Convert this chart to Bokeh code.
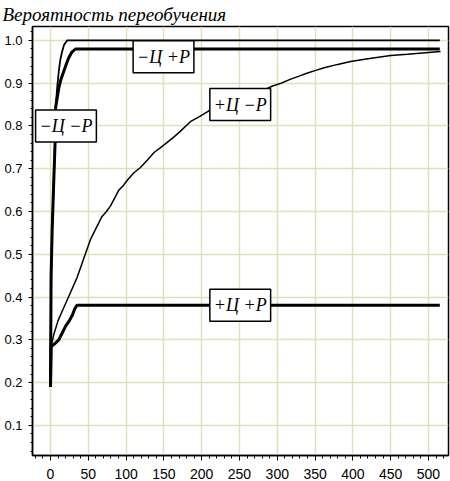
from bokeh.plotting import figure
from bokeh.models import Range1d, SingleIntervalTicker, PrintfTickFormatter, Label
from bokeh.embed import file_html
from bokeh.resources import INLINE

# ---- data ----
title_text = "Вероятность переобучения"

x_mc_mr = [0, 0.8, 2.2, 4.5, 6.6, 6.8, 8.8, 11, 13, 15.4, 18, 22, 515]
y_mc_mr = [0.19, 0.45, 0.556, 0.68, 0.788, 0.843, 0.889, 0.928, 0.955, 0.974, 0.99, 1.0, 1.0]

x_mc_pr = [0, 0.8, 2.2, 4.5, 6.6, 6.8, 11, 14, 17.6, 21, 24, 28, 33, 515]
y_mc_pr = [0.19, 0.45, 0.556, 0.68, 0.788, 0.843, 0.889, 0.91, 0.928, 0.945, 0.959, 0.972, 0.98, 0.98]

x_pc_mr = [0, 1, 4, 10, 15, 20, 25, 30, 35, 40, 46, 53, 60, 68, 74, 79, 85, 90, 96,
           101, 110, 119, 128, 137, 146, 154, 163, 172, 185, 197, 209, 225, 240, 260,
           278, 293, 305, 317, 328, 340, 351, 362, 380, 397, 420, 450, 472, 500, 516]
y_pc_mr = [0.19, 0.284, 0.31, 0.345, 0.365, 0.385, 0.405, 0.425, 0.445, 0.47, 0.5, 0.535,
           0.56, 0.588, 0.6, 0.612, 0.632, 0.649, 0.66, 0.672, 0.69, 0.703, 0.72, 0.738,
           0.75, 0.761, 0.774, 0.788, 0.81, 0.822, 0.835, 0.846, 0.856, 0.868, 0.88,
           0.893, 0.9, 0.909, 0.916, 0.924, 0.93, 0.936, 0.944, 0.951, 0.957, 0.965,
           0.968, 0.972, 0.974]

x_pc_pr = [0, 1, 5, 11, 15.5, 20, 25, 29, 32, 35, 515]
y_pc_pr = [0.19, 0.284, 0.29, 0.30, 0.316, 0.332, 0.345, 0.358, 0.372, 0.381, 0.381]

series_labels = ["−Ц −Р", "−Ц +Р", "+Ц −Р", "+Ц +Р"]
label_x = [20.5, 149.5, 251, 251]
label_y = [0.80, 0.962, 0.85, 0.381]

x_start, x_end = -23.8, 526.5
y_start, y_end = 0.0296, 1.0326

p = figure(width=450, height=481, output_backend="svg", toolbar_location=None,
           x_range=Range1d(x_start, x_end), y_range=Range1d(y_start, y_end),
           min_border_left=32, min_border_right=2, min_border_top=0, min_border_bottom=22,
           title=title_text)

p.title.align = "left"
p.title.offset = -30
p.title.standoff = 3
p.title.text_font = "Liberation Serif"
p.title.text_font_style = "italic"
p.title.text_font_size = "19px"
p.title.text_color = "black"

p.background_fill_color = "white"
p.border_fill_color = "white"
p.outline_line_color = "black"
p.outline_line_width = 1.5

p.xaxis.ticker = SingleIntervalTicker(interval=50, num_minor_ticks=5)
p.yaxis.ticker = SingleIntervalTicker(interval=0.1, num_minor_ticks=5)
p.yaxis.formatter = PrintfTickFormatter(format="%.1f")

for ax in (p.xaxis[0], p.yaxis[0]):
    ax.axis_line_color = "black"
    ax.axis_line_width = 1.5
    ax.major_tick_line_color = "black"
    ax.minor_tick_line_color = "black"
    ax.major_tick_in = 0
    ax.minor_tick_in = 0
    ax.major_label_text_font = "Liberation Sans"
    ax.major_label_text_color = "black"

p.xaxis.major_tick_out = 5
p.xaxis.minor_tick_out = 3
p.xaxis.major_label_standoff = 8
p.xaxis.major_label_text_font_size = "14px"
p.xaxis.major_label_text_line_height = 0.6
p.yaxis.major_tick_out = 4
p.yaxis.minor_tick_out = 2
p.yaxis.major_label_standoff = 6
p.yaxis.major_label_text_font_size = "13px"

p.grid.grid_line_color = "#e0e0b8"
p.grid.grid_line_width = 1.5

p.line(x_pc_mr, y_pc_mr, line_color="black", line_width=1.5)
p.line(x_mc_mr, y_mc_mr, line_color="black", line_width=1.8)
p.line(x_mc_pr, y_mc_pr, line_color="black", line_width=3)
p.line(x_pc_pr, y_pc_pr, line_color="black", line_width=3)

for t, lx, ly in zip(series_labels, label_x, label_y):
    p.add_layout(Label(x=lx, y=ly, text=t, text_align="center", text_baseline="middle",
                       text_font="Liberation Serif", text_font_style="italic",
                       text_font_size="18px", text_color="black",
                       background_fill_color="white", border_line_color="black",
                       border_line_width=1.5,
                       padding=dict(left=4, right=4, top=6, bottom=6)))

open("out.html", "w").write(file_html(p, INLINE))
